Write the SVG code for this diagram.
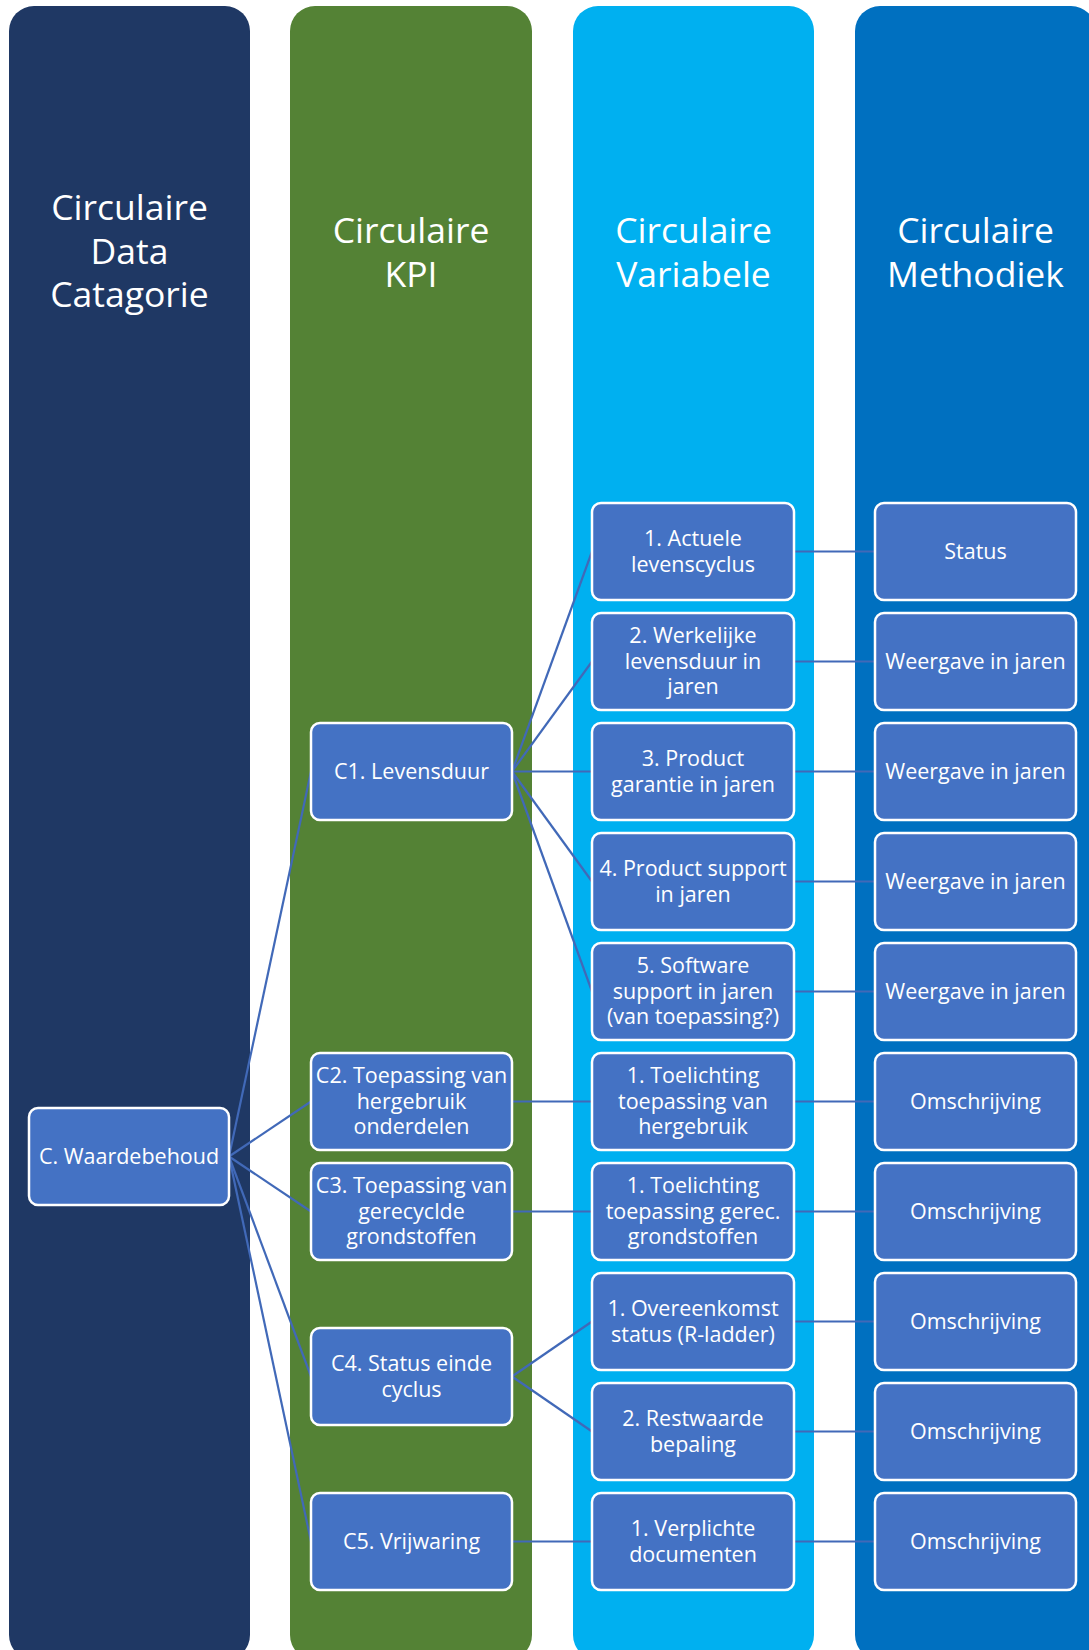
<svg xmlns="http://www.w3.org/2000/svg" width="1089" height="1650" viewBox="0 0 1089 1650">
  <style>
    .col-title { font-family: "Open Sans", "Liberation Sans", sans-serif; font-size: 35.5px; fill: #ffffff; text-anchor: middle; }
    .node rect { fill: #4472C4; stroke: #ffffff; stroke-width: 2.5; }
    .node text { font-family: "Open Sans", "Liberation Sans", sans-serif; font-size: 21.5px; fill: #ffffff; text-anchor: middle; }
    #connectors line { stroke: #4169B8; stroke-width: 2.2; }
  </style>
  <rect width="1089" height="1650" fill="#ffffff"/>

  <!-- column bands -->
  <g id="columns">
    <rect x="9" y="6" width="241" height="1654" rx="25" fill="#1F3864"/>
    <rect x="290" y="6" width="242" height="1654" rx="25" fill="#548235"/>
    <rect x="573" y="6" width="241" height="1654" rx="25" fill="#00B0F0"/>
    <rect x="855" y="6" width="241" height="1654" rx="25" fill="#0070C0"/>
    <text class="col-title" x="129.5" y="220">Circulaire</text>
    <text class="col-title" x="129.5" y="263.5">Data</text>
    <text class="col-title" x="129.5" y="307">Catagorie</text>
    <text class="col-title" x="411" y="243">Circulaire</text>
    <text class="col-title" x="411" y="287">KPI</text>
    <text class="col-title" x="693.5" y="243">Circulaire</text>
    <text class="col-title" x="693.5" y="287">Variabele</text>
    <text class="col-title" x="975.5" y="243">Circulaire</text>
    <text class="col-title" x="975.5" y="287">Methodiek</text>
  </g>

  <!-- connectors -->
  <g id="connectors">
    <line x1="229" y1="1156.5" x2="311" y2="771.5"/>
    <line x1="229" y1="1156.5" x2="311" y2="1101.5"/>
    <line x1="229" y1="1156.5" x2="311" y2="1211.5"/>
    <line x1="229" y1="1156.5" x2="311" y2="1376.5"/>
    <line x1="229" y1="1156.5" x2="311" y2="1541.5"/>
    <line x1="512" y1="771.5" x2="592" y2="551.5"/>
    <line x1="512" y1="771.5" x2="592" y2="661.5"/>
    <line x1="512" y1="771.5" x2="592" y2="771.5"/>
    <line x1="512" y1="771.5" x2="592" y2="881.5"/>
    <line x1="512" y1="771.5" x2="592" y2="991.5"/>
    <line x1="512" y1="1101.5" x2="592" y2="1101.5"/>
    <line x1="512" y1="1211.5" x2="592" y2="1211.5"/>
    <line x1="512" y1="1376.5" x2="592" y2="1321.5"/>
    <line x1="512" y1="1376.5" x2="592" y2="1431.5"/>
    <line x1="512" y1="1541.5" x2="592" y2="1541.5"/>
    <line x1="794" y1="551.5" x2="875" y2="551.5"/>
    <line x1="794" y1="661.5" x2="875" y2="661.5"/>
    <line x1="794" y1="771.5" x2="875" y2="771.5"/>
    <line x1="794" y1="881.5" x2="875" y2="881.5"/>
    <line x1="794" y1="991.5" x2="875" y2="991.5"/>
    <line x1="794" y1="1101.5" x2="875" y2="1101.5"/>
    <line x1="794" y1="1211.5" x2="875" y2="1211.5"/>
    <line x1="794" y1="1321.5" x2="875" y2="1321.5"/>
    <line x1="794" y1="1431.5" x2="875" y2="1431.5"/>
    <line x1="794" y1="1541.5" x2="875" y2="1541.5"/>
  </g>

  <!-- category -->
  <g id="n-waardebehoud" class="node">
    <rect x="29" y="1108" width="200" height="97" rx="9"/>
    <text x="129" y="1163.5">C. Waardebehoud</text>
  </g>

  <!-- KPI nodes -->
  <g id="n-c1" class="node">
    <rect x="311" y="723" width="201" height="97" rx="9"/>
    <text x="411.5" y="778.5">C1. Levensduur</text>
  </g>
  <g id="n-c2" class="node">
    <rect x="311" y="1053" width="201" height="97" rx="9"/>
    <text x="411.5" y="1083">C2. Toepassing van</text>
    <text x="411.5" y="1108.5">hergebruik</text>
    <text x="411.5" y="1134">onderdelen</text>
  </g>
  <g id="n-c3" class="node">
    <rect x="311" y="1163" width="201" height="97" rx="9"/>
    <text x="411.5" y="1193">C3. Toepassing van</text>
    <text x="411.5" y="1218.5">gerecyclde</text>
    <text x="411.5" y="1244">grondstoffen</text>
  </g>
  <g id="n-c4" class="node">
    <rect x="311" y="1328" width="201" height="97" rx="9"/>
    <text x="411.5" y="1370.5">C4. Status einde</text>
    <text x="411.5" y="1396.5">cyclus</text>
  </g>
  <g id="n-c5" class="node">
    <rect x="311" y="1493" width="201" height="97" rx="9"/>
    <text x="411.5" y="1548.5">C5. Vrijwaring</text>
  </g>

  <!-- variable nodes -->
  <g id="n-v1" class="node">
    <rect x="592" y="503" width="202" height="97" rx="9"/>
    <text x="693" y="545.5">1. Actuele</text>
    <text x="693" y="571.5">levenscyclus</text>
  </g>
  <g id="n-v2" class="node">
    <rect x="592" y="613" width="202" height="97" rx="9"/>
    <text x="693" y="643">2. Werkelijke</text>
    <text x="693" y="668.5">levensduur in</text>
    <text x="693" y="694">jaren</text>
  </g>
  <g id="n-v3" class="node">
    <rect x="592" y="723" width="202" height="97" rx="9"/>
    <text x="693" y="765.5">3. Product</text>
    <text x="693" y="791.5">garantie in jaren</text>
  </g>
  <g id="n-v4" class="node">
    <rect x="592" y="833" width="202" height="97" rx="9"/>
    <text x="693" y="875.5">4. Product support</text>
    <text x="693" y="901.5">in jaren</text>
  </g>
  <g id="n-v5" class="node">
    <rect x="592" y="943" width="202" height="97" rx="9"/>
    <text x="693" y="973">5. Software</text>
    <text x="693" y="998.5">support in jaren</text>
    <text x="693" y="1024">(van toepassing?)</text>
  </g>
  <g id="n-v6" class="node">
    <rect x="592" y="1053" width="202" height="97" rx="9"/>
    <text x="693" y="1083">1. Toelichting</text>
    <text x="693" y="1108.5">toepassing van</text>
    <text x="693" y="1134">hergebruik</text>
  </g>
  <g id="n-v7" class="node">
    <rect x="592" y="1163" width="202" height="97" rx="9"/>
    <text x="693" y="1193">1. Toelichting</text>
    <text x="693" y="1218.5">toepassing gerec.</text>
    <text x="693" y="1244">grondstoffen</text>
  </g>
  <g id="n-v8" class="node">
    <rect x="592" y="1273" width="202" height="97" rx="9"/>
    <text x="693" y="1315.5">1. Overeenkomst</text>
    <text x="693" y="1341.5">status (R-ladder)</text>
  </g>
  <g id="n-v9" class="node">
    <rect x="592" y="1383" width="202" height="97" rx="9"/>
    <text x="693" y="1425.5">2. Restwaarde</text>
    <text x="693" y="1451.5">bepaling</text>
  </g>
  <g id="n-v10" class="node">
    <rect x="592" y="1493" width="202" height="97" rx="9"/>
    <text x="693" y="1535.5">1. Verplichte</text>
    <text x="693" y="1561.5">documenten</text>
  </g>

  <!-- method nodes -->
  <g id="n-m1" class="node">
    <rect x="875" y="503" width="201" height="97" rx="9"/>
    <text x="975.5" y="558.5">Status</text>
  </g>
  <g id="n-m2" class="node">
    <rect x="875" y="613" width="201" height="97" rx="9"/>
    <text x="975.5" y="668.5">Weergave in jaren</text>
  </g>
  <g id="n-m3" class="node">
    <rect x="875" y="723" width="201" height="97" rx="9"/>
    <text x="975.5" y="778.5">Weergave in jaren</text>
  </g>
  <g id="n-m4" class="node">
    <rect x="875" y="833" width="201" height="97" rx="9"/>
    <text x="975.5" y="888.5">Weergave in jaren</text>
  </g>
  <g id="n-m5" class="node">
    <rect x="875" y="943" width="201" height="97" rx="9"/>
    <text x="975.5" y="998.5">Weergave in jaren</text>
  </g>
  <g id="n-m6" class="node">
    <rect x="875" y="1053" width="201" height="97" rx="9"/>
    <text x="975.5" y="1108.5">Omschrijving</text>
  </g>
  <g id="n-m7" class="node">
    <rect x="875" y="1163" width="201" height="97" rx="9"/>
    <text x="975.5" y="1218.5">Omschrijving</text>
  </g>
  <g id="n-m8" class="node">
    <rect x="875" y="1273" width="201" height="97" rx="9"/>
    <text x="975.5" y="1328.5">Omschrijving</text>
  </g>
  <g id="n-m9" class="node">
    <rect x="875" y="1383" width="201" height="97" rx="9"/>
    <text x="975.5" y="1438.5">Omschrijving</text>
  </g>
  <g id="n-m10" class="node">
    <rect x="875" y="1493" width="201" height="97" rx="9"/>
    <text x="975.5" y="1548.5">Omschrijving</text>
  </g>
</svg>
